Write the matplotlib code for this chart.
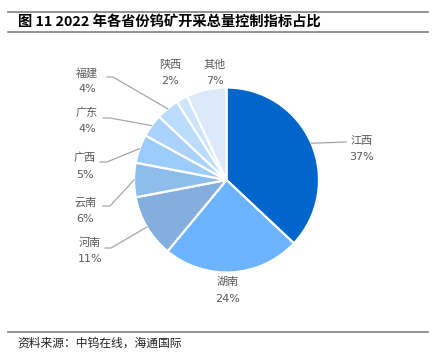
import numpy as np
import matplotlib.pyplot as plt

# 2022 tungsten mining quota share by province
provinces = ['江西', '湖南', '河南', '云南', '广西', '广东', '福建', '陕西', '其他']
shares = [37, 24, 11, 6, 5, 4, 4, 2, 7]
colors = ['#0066CC', '#6CB4FF', '#84AEDD', '#8FBDEB', '#9CCCFC',
          '#AAD2FB', '#BCDCFB', '#CCE4FC', '#DBE9FB']

title = '图 11 2022 年各省份钨矿开采总量控制指标占比'
source = '资料来源：中钨在线，海通国际'

W, H = 436, 354
plt.rcParams['font.family'] = ['Noto Sans CJK SC', 'DejaVu Sans']

fig = plt.figure(figsize=(W / 100, H / 100), dpi=100)
ax = fig.add_axes([0, 0, 1, 1])

cx, cy, r = 226.5, H - 180, 92.5
wedges, _ = ax.pie(shares, colors=colors, startangle=90, counterclock=False,
                   center=(cx, cy), radius=r,
                   wedgeprops=dict(edgecolor='white', linewidth=1.6))
ax.set_xlim(0, W)
ax.set_ylim(0, H)
ax.set_aspect('equal')
ax.axis('off')

# label placement (pixel coords from top) and leader line end / elbow
label_pos = {
    '江西': (362, 141), '湖南': (228, 282), '河南': (90, 243),
    '云南': (85, 203), '广西': (85, 158), '广东': (87, 113),
    '福建': (87, 73), '陕西': (170, 65), '其他': (215, 65),
}
leaders = {
    '江西': [(346, 142)],
    '河南': [(111, 248), (105, 248)],
    '云南': [(110, 206), (103, 206)],
    '广西': [(107, 162), (100, 162)],
    '广东': [(110, 118), (103, 118)],
    '福建': [(113, 77), (107, 77)],
}

txt_color = '#595959'
for w, name, val in zip(wedges, provinces, shares):
    lx, ly = label_pos[name]
    ax.text(lx, H - ly, name, ha='center', va='center', fontsize=8, color=txt_color)
    ax.text(lx, H - ly - 16.5, f'{val}%', ha='center', va='center', fontsize=8,
            color=txt_color, family='DejaVu Sans')
    if name in leaders:
        ang = np.deg2rad((w.theta1 + w.theta2) / 2)
        xs = [cx + r * np.cos(ang)] + [p[0] for p in leaders[name]]
        ys = [cy + r * np.sin(ang)] + [H - p[1] for p in leaders[name]]
        ax.plot(xs, ys, color='#A6A6A6', lw=0.9)

# title and source with rules
ax.plot([8, 428], [H - 12, H - 12], color='#808080', lw=1.2)
ax.plot([8, 428], [H - 32, H - 32], color='#808080', lw=1.2)
ax.text(18, H - 22, title, ha='left', va='center', fontsize=10.3,
        fontweight='bold', color='black')
ax.plot([8, 428], [H - 332, H - 332], color='#808080', lw=1.2)
ax.text(17, H - 343, source, ha='left', va='center', fontsize=8.5, color='#222222')

fig.savefig('out.png', dpi=100)
